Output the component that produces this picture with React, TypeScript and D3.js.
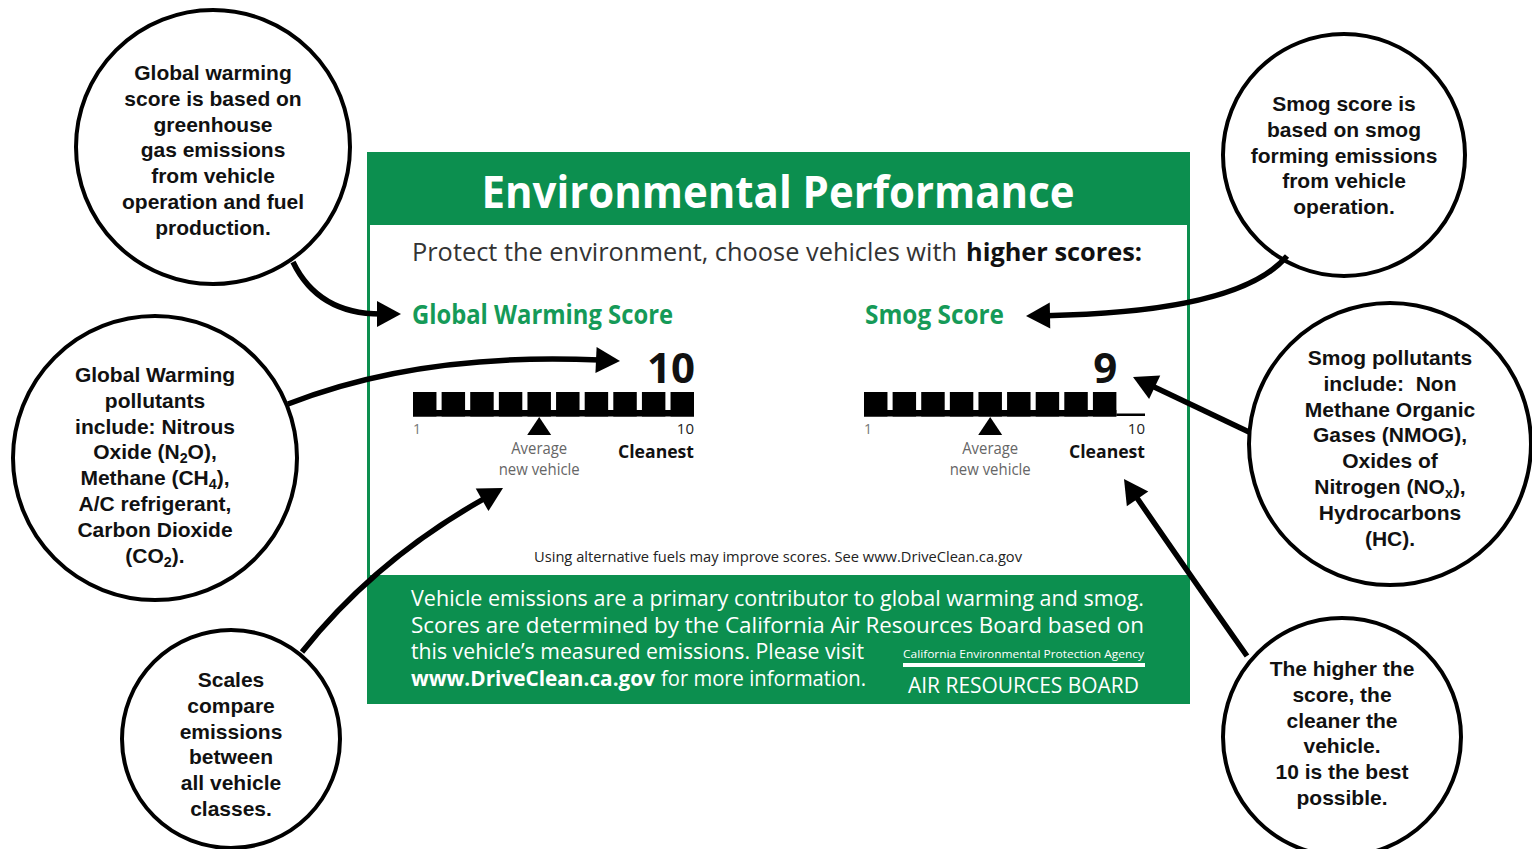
import React from 'react';
import * as d3 from 'd3';

// ---------- data ----------
const scoreTitles = ['Global Warming Score', 'Smog Score'];
const scoreValues = [10, 9];
const averageScores = [5, 5];
const scaleSteps = [1, 2, 3, 4, 5, 6, 7, 8, 9, 10];
const endTickLabels = ['1', '10'];
const bestLabel = 'Cleanest';
const averageLabel = ['Average', 'new vehicle'];

const headerTitle = 'Environmental Performance';
const subtitleRegular = 'Protect the environment, choose vehicles with';
const subtitleBold = 'higher scores:';
const noteText = 'Using alternative fuels may improve scores. See www.DriveClean.ca.gov';
const footerLines = [
  'Vehicle emissions are a primary contributor to global warming and smog.',
  'Scores are determined by the California Air Resources Board based on',
  "this vehicle\u2019s measured emissions. Please visit",
];
const footerLinkBold = 'www.DriveClean.ca.gov';
const footerLinkRest = 'for more information.';
const agencyText = 'California Environmental Protection Agency';
const boardText = 'AIR RESOURCES BOARD';

const calloutTexts = [
  ['Global warming', 'score is based on', 'greenhouse', 'gas emissions', 'from vehicle', 'operation and fuel', 'production.'],
  ['Global Warming', 'pollutants', 'include: Nitrous', 'Oxide (N_2O),', 'Methane (CH_4),', 'A/C refrigerant,', 'Carbon Dioxide', '(CO_2).'],
  ['Scales', 'compare', 'emissions', 'between', 'all vehicle', 'classes.'],
  ['Smog score is', 'based on smog', 'forming emissions', 'from vehicle', 'operation.'],
  ['Smog pollutants', 'include:\u00a0 Non', 'Methane Organic', 'Gases (NMOG),', 'Oxides of', 'Nitrogen (NO_x),', 'Hydrocarbons', '(HC).'],
  ['The higher the', 'score, the', 'cleaner the', 'vehicle.', '10 is the best', 'possible.'],
];

// ---------- layout ----------
const W = 1532;
const H = 849;
const GREEN = '#0c8f4f';
const TITLE_GREEN = '#159a58';
const panel = { x0: 367, x1: 1190, y0: 152, yHead: 225, yFoot: 575, y1: 704, border: 3 };
const scaleX0 = [413, 864];
const scaleW = 281;
const titleOffsets = [-1, 1];
const titleWidths = [261, 139];

const circles = [
  { cx: 213, cy: 147, r: 137, y0: 80 },
  { cx: 155, cy: 458, r: 142, y0: 382 },
  { cx: 231, cy: 739, r: 109, y0: 687 },
  { cx: 1344, cy: 155, r: 121, y0: 111 },
  { cx: 1390, cy: 444, r: 141, y0: 365 },
  { cx: 1342, cy: 737, r: 119, y0: 676 },
];

const arrows = [
  { start: [293, 262], ctrl: [318, 314], tip: [401, 314] },
  { start: [288, 404], ctrl: [420, 352], tip: [620, 361] },
  { start: [302, 652], ctrl: [375, 560], tip: [503, 488] },
  { start: [1287, 256], ctrl: [1240, 312], tip: [1026, 316] },
  { start: [1249, 432], ctrl: [1190, 404], tip: [1133, 377] },
  { start: [1247, 656], ctrl: [1185, 568], tip: [1124, 479] },
];

function renderLine(line: string, fs: number) {
  const parts = line.split(/_(.)/);
  return parts.map((p, i) =>
    i % 2 === 1 ? (
      <tspan key={i} fontSize={fs * 0.68} dy={4}>{p}</tspan>
    ) : (
      <tspan key={i} dy={i > 0 ? -4 : 0}>{p}</tspan>
    )
  );
}

function Arrow({ a }: { a: { start: number[]; ctrl: number[]; tip: number[] } }) {
  const L = 24;
  const HW = 13;
  const [tx, ty] = a.tip;
  const dx = tx - a.ctrl[0];
  const dy = ty - a.ctrl[1];
  const len = Math.hypot(dx, dy);
  const ux = dx / len;
  const uy = dy / len;
  const bx = tx - ux * L;
  const by = ty - uy * L;
  const p = d3.path();
  p.moveTo(a.start[0], a.start[1]);
  p.quadraticCurveTo(a.ctrl[0], a.ctrl[1], tx - ux * (L - 4), ty - uy * (L - 4));
  const head = [
    [tx, ty],
    [bx - uy * HW, by + ux * HW],
    [bx + uy * HW, by - ux * HW],
  ];
  return (
    <g>
      <path d={p.toString()} fill="none" stroke="#000" strokeWidth={5.5} />
      <polygon points={head.map((q) => q.join(',')).join(' ')} fill="#000" />
    </g>
  );
}

function ScoreScale({ i }: { i: number }) {
  const x0 = scaleX0[i];
  const score = scoreValues[i];
  const avg = averageScores[i];
  const band = d3.scaleBand<number>().domain(scaleSteps).range([0, scaleW]).paddingInner(0.18);
  const bw = band.bandwidth();
  const filled = scaleSteps.filter((s) => s <= score);
  const fillEnd = (band(score) as number) + bw;
  const avgX = (band(avg) as number) + bw / 2;
  const font = "'Open Sans', 'Liberation Sans', sans-serif";
  return (
    <g transform={`translate(${x0},0)`} fontFamily={font}>
      <text x={titleOffsets[i]} y={324} fontSize={26} fontWeight={700} fill={TITLE_GREEN} textLength={titleWidths[i]} lengthAdjust="spacingAndGlyphs">
        {scoreTitles[i]}
      </text>
      <text x={fillEnd + 1} y={383} textAnchor="end" fontSize={42} fontWeight={700} fill="#111">
        {score}
      </text>
      {filled.map((s) => (
        <rect key={s} x={band(s)} y={392} width={bw} height={24.5} fill="#000" />
      ))}
      <rect x={0} y={410} width={fillEnd} height={6.5} fill="#000" />
      {fillEnd < scaleW && <rect x={fillEnd} y={413.5} width={scaleW - fillEnd} height={2.5} fill="#000" />}
      <polygon points={`${avgX},417 ${avgX - 12},435 ${avgX + 12},435`} fill="#000" />
      <text x={(band(1) as number) + 4} y={434} textAnchor="middle" fontSize={14} fill="#777">
        {endTickLabels[0]}
      </text>
      <text x={scaleW} y={434} textAnchor="end" fontSize={15} fill="#222">
        {endTickLabels[1]}
      </text>
      <text x={scaleW} y={458} textAnchor="end" fontSize={18.5} fontWeight={700} fill="#111" textLength={76} lengthAdjust="spacingAndGlyphs">
        {bestLabel}
      </text>
      <text x={avgX} y={454} textAnchor="middle" fontSize={15.5} fill="#666" textLength={56} lengthAdjust="spacingAndGlyphs">
        {averageLabel[0]}
      </text>
      <text x={avgX} y={475} textAnchor="middle" fontSize={15.5} fill="#666" textLength={81} lengthAdjust="spacingAndGlyphs">
        {averageLabel[1]}
      </text>
    </g>
  );
}

export default function App() {
  const font = "'Open Sans', 'Liberation Sans', sans-serif";
  const cfont = "'Liberation Sans', Arial, sans-serif";
  const lineH = 25.8;
  const cfs = 21;
  return (
    <svg width={W} height={H} viewBox={`0 0 ${W} ${H}`} style={{ position: 'fixed', left: 0, top: 0, background: '#fff' }}>
      <rect x={0} y={0} width={W} height={H} fill="#fff" />
      {/* panel */}
      <rect x={panel.x0} y={panel.y0} width={panel.x1 - panel.x0} height={panel.y1 - panel.y0} fill={GREEN} />
      <rect
        x={panel.x0 + panel.border}
        y={panel.yHead}
        width={panel.x1 - panel.x0 - 2 * panel.border}
        height={panel.yFoot - panel.yHead}
        fill="#fff"
      />
      <g fontFamily={font}>
        <text x={778} y={208} textAnchor="middle" fontSize={44} fontWeight={700} fill="#fff" textLength={593} lengthAdjust="spacingAndGlyphs">
          {headerTitle}
        </text>
        <text x={412} y={261} fontSize={25} fill="#333" textLength={545} lengthAdjust="spacingAndGlyphs">
          {subtitleRegular}
        </text>
        <text x={966} y={261} fontSize={25} fontWeight={700} fill="#111" textLength={176} lengthAdjust="spacingAndGlyphs">
          {subtitleBold}
        </text>
        <text x={778} y={562} textAnchor="middle" fontSize={15} fill="#222" textLength={488} lengthAdjust="spacingAndGlyphs">
          {noteText}
        </text>
        <text x={411} y={606} fontSize={21} fill="#fff" textLength={733} lengthAdjust="spacingAndGlyphs">
          {footerLines[0]}
        </text>
        <text x={411} y={633} fontSize={21} fill="#fff" textLength={733} lengthAdjust="spacingAndGlyphs">
          {footerLines[1]}
        </text>
        <text x={411} y={659} fontSize={21} fill="#fff" textLength={453} lengthAdjust="spacingAndGlyphs">
          {footerLines[2]}
        </text>
        <text x={411} y={686} fontSize={21} fontWeight={700} fill="#fff" textLength={244} lengthAdjust="spacingAndGlyphs">
          {footerLinkBold}
        </text>
        <text x={661} y={686} fontSize={21} fill="#fff" textLength={205} lengthAdjust="spacingAndGlyphs">
          {footerLinkRest}
        </text>
        <text x={903} y={658} fontSize={11.5} fill="#fff" textLength={241} lengthAdjust="spacingAndGlyphs">
          {agencyText}
        </text>
        <rect x={903} y={663} width={242} height={4} fill="#fff" />
        <text x={908} y={693} fontSize={22} fill="#fff" textLength={231} lengthAdjust="spacingAndGlyphs">
          {boardText}
        </text>
      </g>
      {scoreValues.map((_, i) => (
        <ScoreScale key={i} i={i} />
      ))}
      {/* callouts */}
      {circles.map((c, i) => (
        <g key={i}>
          <circle cx={c.cx} cy={c.cy} r={c.r} fill="#fff" stroke="#000" strokeWidth={4} />
          {calloutTexts[i].map((line, j) => (
            <text key={j} x={c.cx} y={c.y0 + j * lineH} fontFamily={cfont} fontSize={cfs} fontWeight={700} fill="#111" textAnchor="middle">
              {renderLine(line, cfs)}
            </text>
          ))}
        </g>
      ))}
      {arrows.map((a, i) => (
        <Arrow key={i} a={a} />
      ))}
    </svg>
  );
}
